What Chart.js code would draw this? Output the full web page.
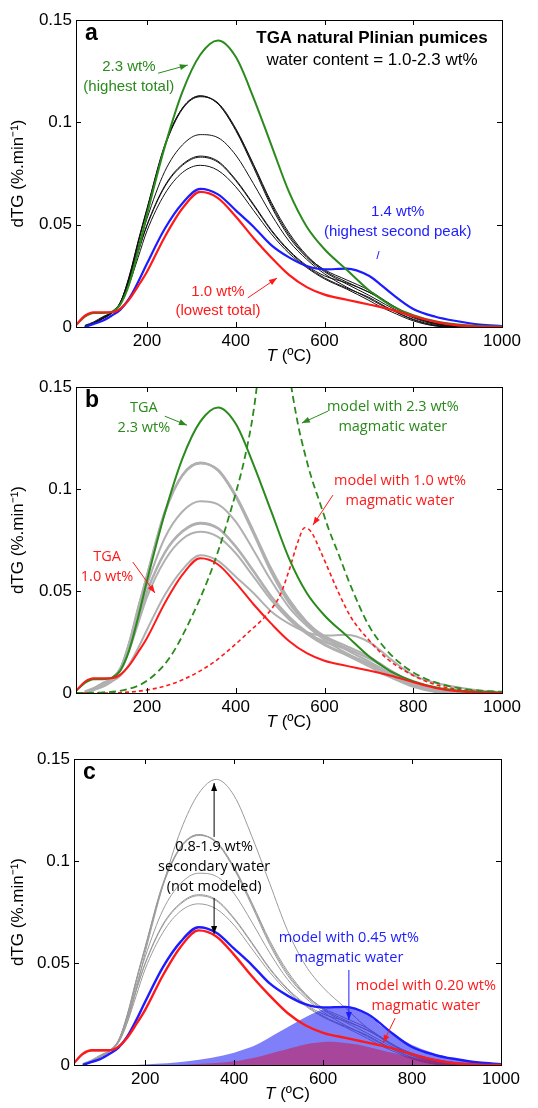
<!DOCTYPE html>
<html>
<head>
<meta charset="utf-8">
<script src="https://cdn.jsdelivr.net/npm/chart.js@4.4.1/dist/chart.umd.min.js"></script>
<style>
  body { margin: 0; background: #fff; }
  #wrap { position: relative; width: 538px; height: 1108px; }
  canvas { position: absolute; left: 0; }
</style>
</head>
<body>
<div id="wrap">
  <canvas id="panel_a" width="538" height="368" style="top:0px"></canvas>
  <canvas id="panel_b" width="538" height="368" style="top:368px"></canvas>
  <canvas id="panel_c" width="538" height="372" style="top:736px"></canvas>
</div>
<script>
// temperature grid of the TGA curves (ºC)
const tempC = [40, 60, 80, 100, 120, 140, 160, 180, 200, 240, 280, 320, 360, 400, 440, 480, 520, 560, 600, 650, 700, 725, 750, 800, 850, 900, 950, 1000];

// dTG (%.min-1) of the natural pumices
const tga23 = [0.001, 0.005, 0.0068, 0.0068, 0.0074, 0.011, 0.021, 0.037, 0.055, 0.088, 0.115, 0.133, 0.14, 0.132, 0.112, 0.089, 0.066, 0.049, 0.038, 0.028, 0.018, 0.014, 0.0105, 0.0058, 0.0028, 0.0012, 0.0005, 0.0002];
const tga14 = [null, 0, 0.0015, 0.003, 0.0055, 0.0085, 0.014, 0.022, 0.031, 0.048, 0.0605, 0.0675, 0.0648, 0.057, 0.049, 0.040, 0.034, 0.0298, 0.0282, 0.0285, 0.025, 0.021, 0.0165, 0.0088, 0.005, 0.0028, 0.0012, 0.0004];
const tga10 = [0.001, 0.0055, 0.0072, 0.0072, 0.0072, 0.009, 0.0135, 0.02, 0.027, 0.044, 0.058, 0.066, 0.063, 0.054, 0.0435, 0.034, 0.0255, 0.0195, 0.0158, 0.0133, 0.011, 0.0098, 0.0085, 0.0053, 0.0025, 0.0008, 0.0002, 0];
const tgaBlack1 = [null, 0.0005, 0.002, 0.0045, 0.007, 0.012, 0.025, 0.042, 0.058, 0.089, 0.107, 0.113, 0.109, 0.096, 0.078, 0.059, 0.044, 0.034, 0.027, 0.021, 0.0155, 0.0125, 0.0095, 0.0045, 0.0012, 0, null, null];
const tgaBlack2 = [null, 0, 0.0015, 0.004, 0.0068, 0.0118, 0.024, 0.041, 0.057, 0.088, 0.1065, 0.1125, 0.1095, 0.097, 0.0795, 0.061, 0.046, 0.035, 0.0275, 0.022, 0.017, 0.014, 0.0105, 0.005, 0.0018, 0.0004, 0, null];
const tgaBlack3 = [null, 0.0008, 0.0025, 0.005, 0.0072, 0.0122, 0.0245, 0.0415, 0.0575, 0.0885, 0.107, 0.1128, 0.109, 0.0965, 0.079, 0.060, 0.045, 0.0345, 0.028, 0.023, 0.018, 0.0145, 0.011, 0.0052, 0.0015, 0, null, null];
const tgaBlack4 = [null, 0.0003, 0.002, 0.0045, 0.007, 0.012, 0.024, 0.039, 0.053, 0.076, 0.089, 0.094, 0.0925, 0.084, 0.070, 0.055, 0.042, 0.033, 0.026, 0.0195, 0.014, 0.011, 0.0085, 0.0038, 0.0008, 0, null, null];
const tgaBlack5 = [null, 0.0005, 0.002, 0.0045, 0.007, 0.0118, 0.023, 0.037, 0.050, 0.069, 0.0795, 0.0835, 0.081, 0.072, 0.060, 0.0475, 0.0375, 0.030, 0.025, 0.0215, 0.017, 0.014, 0.0105, 0.005, 0.0018, 0.0004, 0, null];
const tgaBlack6 = [null, 0, 0.0018, 0.0042, 0.0068, 0.0115, 0.0225, 0.0365, 0.0495, 0.0685, 0.079, 0.083, 0.0805, 0.0715, 0.0595, 0.047, 0.037, 0.0295, 0.024, 0.019, 0.0145, 0.0115, 0.0085, 0.0035, 0.0006, 0, null, null];
const tgaBlack7 = [null, 0.0002, 0.0017, 0.004, 0.0066, 0.011, 0.021, 0.034, 0.047, 0.065, 0.0755, 0.079, 0.0765, 0.0685, 0.057, 0.0455, 0.036, 0.029, 0.0235, 0.0185, 0.013, 0.010, 0.0075, 0.003, 0.0005, 0, null, null];

// model curves (magmatic water only)
const modelTempC = [40, 100, 150, 200, 250, 300, 350, 400, 420, 440, 460, 480, 500, 520, 540, 555, 570, 590, 610, 630, 660, 700, 740, 780, 820, 860, 900, 950, 1000];
const model23 = [0, 0.0003, 0.0015, 0.006, 0.017, 0.037, 0.063, 0.098, 0.115, 0.138, 0.172, 0.198, 0.196, 0.158, 0.132, 0.118, 0.106, 0.093, 0.080, 0.069, 0.052, 0.033, 0.021, 0.013, 0.0078, 0.0045, 0.0025, 0.0012, 0.0006];
const model10 = [0, 0, 0.0003, 0.0015, 0.004, 0.0085, 0.015, 0.024, 0.028, 0.032, 0.036, 0.041, 0.048, 0.060, 0.074, 0.081, 0.079, 0.070, 0.060, 0.050, 0.037, 0.026, 0.017, 0.011, 0.0065, 0.0035, 0.0018, 0.0007, 0.0003];
const model045 = [0, 0, 0, 0.0003, 0.0008, 0.002, 0.0035, 0.006, 0.0075, 0.009, 0.011, 0.0135, 0.016, 0.0185, 0.021, 0.0228, 0.0245, 0.0265, 0.028, 0.0288, 0.0285, 0.0245, 0.0175, 0.012, 0.008, 0.0052, 0.0028, 0.001, 0.0003];
const model020 = [0, 0, 0, 0, 0, 0.0003, 0.0008, 0.0018, 0.0025, 0.0033, 0.0043, 0.0055, 0.0067, 0.0079, 0.009, 0.0098, 0.0105, 0.011, 0.0114, 0.0113, 0.0105, 0.009, 0.0067, 0.0047, 0.003, 0.0018, 0.001, 0.0004, 0.0001];

// axes
const xTicks = [200, 400, 600, 800, 1000];
const xTickLabels = ['200', '400', '600', '800', '1000'];
const yTicks = [0, 0.05, 0.1, 0.15];
const yTickLabels = ['0', '0.05', '0.1', '0.15'];

const GREEN = '#2a8a1c';
const RED = '#ff1a1a';
const BLUE = '#1c1cff';
const HELV = '"Liberation Sans", Arial, sans-serif';
const MYRIAD = '"Open Sans", "Noto Sans", sans-serif';

const blackSeries = [tgaBlack1, tgaBlack2, tgaBlack3, tgaBlack4, tgaBlack5, tgaBlack6, tgaBlack7];

function pts(xs, ys) {
    const out = [];
    xs.forEach((x, i) => { if (ys[i] !== null) out.push({ x: x, y: ys[i] }); });
    return out;
}

function line(ys, color, width, order, extra) {
    return Object.assign({
        data: pts(tempC, ys),
        borderColor: color,
        borderWidth: width,
        pointRadius: 0,
        fill: false,
        cubicInterpolationMode: 'monotone',
        order: order
    }, extra || {});
}

function modelLine(ys, extra) {
    return Object.assign({
        data: pts(modelTempC, ys),
        pointRadius: 0,
        cubicInterpolationMode: 'monotone'
    }, extra);
}

function arrowHead(ctx, x1, y1, x2, y2, len, half) {
    const a = Math.atan2(y2 - y1, x2 - x1);
    ctx.beginPath();
    ctx.moveTo(x2, y2);
    ctx.lineTo(x2 - len * Math.cos(a) + half * Math.sin(a), y2 - len * Math.sin(a) - half * Math.cos(a));
    ctx.lineTo(x2 - len * Math.cos(a) - half * Math.sin(a), y2 - len * Math.sin(a) + half * Math.cos(a));
    ctx.closePath();
    ctx.fill();
}

// box, inward ticks, axis titles, panel letter and the text notes
function framePlugin(letter, notes) {
    return {
        id: 'frame',
        afterDatasetsDraw(chart) {
            const ctx = chart.ctx;
            const a = chart.chartArea;
            const xs = chart.scales.x, ys = chart.scales.y;
            ctx.save();
            ctx.strokeStyle = '#000';
            ctx.lineWidth = 1;
            ctx.strokeRect(Math.round(a.left) + 0.5, Math.round(a.top) + 0.5, Math.round(a.right - a.left), Math.round(a.bottom - a.top));
            ctx.beginPath();
            xTicks.forEach(v => {
                const px = Math.round(xs.getPixelForValue(v)) + 0.5;
                ctx.moveTo(px, a.bottom); ctx.lineTo(px, a.bottom - 5);
                ctx.moveTo(px, a.top); ctx.lineTo(px, a.top + 5);
            });
            yTicks.forEach(v => {
                const py = Math.round(ys.getPixelForValue(v)) + 0.5;
                ctx.moveTo(a.left, py); ctx.lineTo(a.left + 5, py);
                ctx.moveTo(a.right, py); ctx.lineTo(a.right - 5, py);
            });
            ctx.stroke();

            // x title with italic T
            ctx.fillStyle = '#000';
            ctx.textBaseline = 'middle';
            ctx.textAlign = 'left';
            const cx = (a.left + a.right) / 2;
            const ty = a.bottom + 29;
            ctx.font = 'italic 17px ' + HELV;
            const wT = ctx.measureText('T').width;
            ctx.font = '17px ' + HELV;
            const wR = ctx.measureText(' (ºC)').width;
            const x0 = cx - (wT + wR) / 2;
            ctx.font = 'italic 17px ' + HELV;
            ctx.fillText('T', x0, ty);
            ctx.font = '17px ' + HELV;
            ctx.fillText(' (ºC)', x0 + wT, ty);

            // y title
            ctx.save();
            ctx.translate(18, (a.top + a.bottom) / 2);
            ctx.rotate(-Math.PI / 2);
            ctx.textAlign = 'center';
            ctx.font = '17px ' + HELV;
            ctx.fillText('dTG (%.min\u207B\u00B9)', 0, 0);
            ctx.restore();

            // panel letter
            ctx.font = 'bold 23px ' + HELV;
            ctx.textBaseline = 'alphabetic';
            ctx.fillText(letter, a.left + 9, a.top + 20);

            notes.forEach(n => {
                const px = xs.getPixelForValue(n.x);
                const py = ys.getPixelForValue(n.y);
                ctx.fillStyle = n.color;
                ctx.strokeStyle = n.color;
                if (n.lines) {
                    ctx.font = n.font;
                    ctx.textAlign = 'center';
                    ctx.textBaseline = 'middle';
                    n.lines.forEach((s, i) => ctx.fillText(s, px, py + i * n.lh));
                } else {
                    const qx = xs.getPixelForValue(n.x2);
                    const qy = ys.getPixelForValue(n.y2);
                    ctx.lineWidth = 1;
                    ctx.beginPath();
                    ctx.moveTo(px, py);
                    ctx.lineTo(qx, qy);
                    ctx.stroke();
                    if (n.head) arrowHead(ctx, px, py, qx, qy, 8, 3);
                }
            });
            ctx.restore();
        }
    };
}

function makePanel(id, datasets, padTop, xAxisH, padRight, yAxisW, letter, notes) {
    return new Chart(document.getElementById(id).getContext('2d'), {
        type: 'line',
        data: { datasets: datasets },
        options: {
            responsive: false,
            animation: false,
            layout: { padding: { top: padTop, right: padRight, left: 0, bottom: 0 } },
            plugins: { legend: { display: false }, tooltip: { enabled: false } },
            scales: {
                x: {
                    type: 'linear',
                    min: 40,
                    max: 1000,
                    grid: { display: false, drawTicks: false },
                    border: { display: false },
                    afterBuildTicks: s => { s.ticks = xTicks.map(v => ({ value: v })); },
                    afterFit: s => { s.height = xAxisH; },
                    ticks: {
                        autoSkip: false,
                        maxRotation: 0,
                        padding: 4,
                        color: '#000',
                        font: { family: HELV, size: 17 },
                        callback: v => xTickLabels[xTicks.indexOf(v)]
                    }
                },
                y: {
                    min: 0,
                    max: 0.15,
                    grid: { display: false, drawTicks: false },
                    border: { display: false },
                    afterBuildTicks: s => { s.ticks = yTicks.map(v => ({ value: v })); },
                    afterFit: s => { s.width = yAxisW; },
                    ticks: {
                        padding: 4,
                        color: '#000',
                        font: { family: HELV, size: 17 },
                        callback: v => yTickLabels[yTicks.indexOf(v)]
                    }
                }
            }
        },
        plugins: [framePlugin(letter, notes)]
    });
}

// ---- panel a
const dsA = [
    line(tga10, RED, 2.2, 0),
    line(tga23, GREEN, 2, 1),
    line(tga14, BLUE, 2.2, 2)
].concat(blackSeries.map(s => line(s, '#111', 1, 3)));

const notesA = [
    { x: 707, y: 0.1412, lines: ['TGA natural Plinian pumices'], color: '#000', font: 'bold 17px ' + HELV, lh: 0 },
    { x: 707, y: 0.1305, lines: ['water content = 1.0-2.3 wt%'], color: '#000', font: '17px ' + HELV, lh: 0 },
    { x: 159, y: 0.127, lines: ['2.3 wt%', '(highest total)'], color: GREEN, font: '15px ' + HELV, lh: 20 },
    { x: 225, y: 0.124, x2: 292, y2: 0.128, color: GREEN, head: true },
    { x: 765, y: 0.0562, lines: ['1.4 wt%', '(highest second peak)'], color: BLUE, font: '15px ' + HELV, lh: 20 },
    { x: 723, y: 0.0371, x2: 718, y2: 0.0332, color: BLUE, head: false },
    { x: 360, y: 0.0171, lines: ['1.0 wt%', '(lowest total)'], color: RED, font: '15px ' + HELV, lh: 19 },
    { x: 427, y: 0.0142, x2: 493, y2: 0.0239, color: RED, head: true }
];
makePanel('panel_a', dsA, 20, 41, 36, 76, 'a', notesA);

// ---- panel b
const GRAY_B = '#b0b0b0';
const dsB = [
    line(tga10, RED, 2, 0),
    line(tga23, GREEN, 2, 1),
    modelLine(model23, { borderColor: GREEN, borderWidth: 1.8, borderDash: [7, 4], fill: false, order: 2 }),
    modelLine(model10, { borderColor: RED, borderWidth: 1.6, borderDash: [4, 3], fill: false, order: 2 }),
    line(tga14, GRAY_B, 2, 3)
].concat(blackSeries.map(s => line(s, GRAY_B, 2, 3)));

const notesB = [
    { x: 193, y: 0.1397, lines: ['TGA', '2.3 wt%'], color: GREEN, font: '14.5px ' + MYRIAD, lh: 20 },
    { x: 240, y: 0.1357, x2: 290, y2: 0.1313, color: GREEN, head: true },
    { x: 754, y: 0.1401, lines: ['model with 2.3 wt%', 'magmatic water'], color: GREEN, font: '14.5px ' + MYRIAD, lh: 20 },
    { x: 608, y: 0.1382, x2: 549, y2: 0.1323, color: GREEN, head: true },
    { x: 770, y: 0.1039, lines: ['model with 1.0 wt%', 'magmatic water'], color: RED, font: '14.5px ' + MYRIAD, lh: 20 },
    { x: 619, y: 0.097, x2: 574, y2: 0.0823, color: RED, head: true },
    { x: 110, y: 0.0666, lines: ['TGA', '1.0 wt%'], color: RED, font: '14.5px ' + MYRIAD, lh: 20 },
    { x: 168, y: 0.0642, x2: 218, y2: 0.049, color: RED, head: true }
];
makePanel('panel_b', dsB, 19, 43, 36, 76, 'b', notesB);

// ---- panel c
const GRAY_C = '#9a9a9a';
const dsC = [
    line(tga10, RED, 2.4, 0),
    line(tga14, BLUE, 2.4, 1),
    modelLine(model020, { borderWidth: 0, backgroundColor: 'rgba(215,0,40,0.45)', fill: 'origin', order: 2 }),
    modelLine(model045, { borderWidth: 0, backgroundColor: 'rgba(0,0,245,0.5)', fill: 'origin', order: 3 }),
    line(tga23, GRAY_C, 1, 4)
].concat(blackSeries.map(s => line(s, GRAY_C, 1, 4)));

const notesC = [
    { x: 355, y: 0.1069, lines: ['0.8-1.9 wt%', 'secondary water', '(not modeled)'], color: '#000', font: '14.5px ' + MYRIAD, lh: 20 },
    { x: 355, y: 0.1118, x2: 355, y2: 0.1382, color: '#000', head: true },
    { x: 355, y: 0.0819, x2: 355, y2: 0.0642, color: '#000', head: true },
    { x: 658, y: 0.0622, lines: ['model with 0.45 wt%', 'magmatic water'], color: BLUE, font: '14.5px ' + MYRIAD, lh: 20 },
    { x: 658, y: 0.0466, x2: 658, y2: 0.022, color: BLUE, head: true },
    { x: 831, y: 0.0387, lines: ['model with 0.20 wt%', 'magmatic water'], color: RED, font: '14.5px ' + MYRIAD, lh: 20 },
    { x: 762, y: 0.023, x2: 735, y2: 0.0108, color: RED, head: true }
];
makePanel('panel_c', dsC, 23, 43, 37, 74, 'c', notesC);
</script>
</body>
</html>
